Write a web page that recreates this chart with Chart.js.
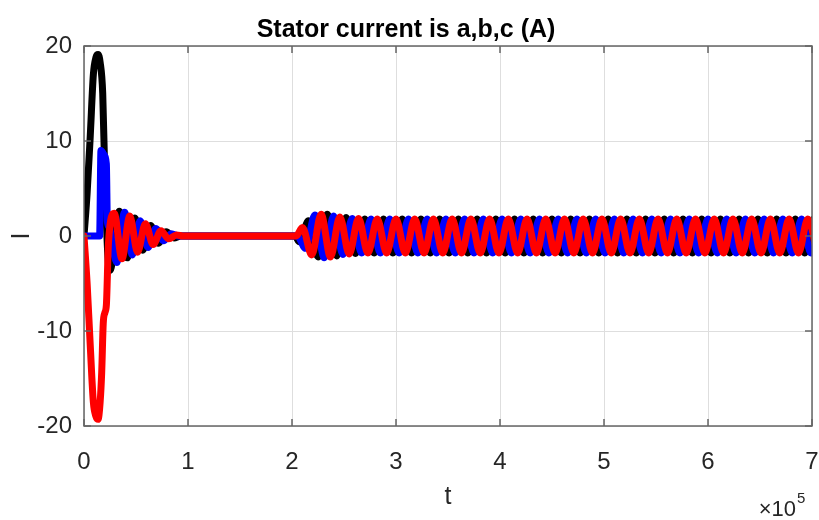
<!DOCTYPE html>
<html>
<head>
<meta charset="utf-8">
<title>Stator current</title>
<script src="https://cdn.jsdelivr.net/npm/chart.js@4.4.1/dist/chart.umd.min.js"></script>
<style>
  body { margin: 0; background: #fff; }
</style>
</head>
<body>
<canvas id="myChart" width="819" height="520"></canvas>
<script>
//* GLOBALS //
// time values are in units of 10^5 (see the exponent label under the x axis)
let xTicks = [0, 1, 2, 3, 4, 5, 6, 7];
let yTicks = [-20, -10, 0, 10, 20];
let fontName = '"Liberation Sans", Arial, sans-serif';

//*PHASE A (red)*//
let tRed = [0, 0.03, 0.06, 0.09, 0.115, 0.135, 0.155, 0.17, 0.185, 0.20, 0.215, 0.235,
  0.29, 0.365, 0.44, 0.515, 0.59, 0.665, 0.74, 0.815, 0.89, 0.95, 2.04,
  2.10, 2.19, 2.28, 2.37, 2.46, 2.55, 2.64, 2.73,
  2.82, 2.91, 3.00, 3.09, 3.18, 3.27, 3.36, 3.45,
  3.54, 3.63, 3.72, 3.81, 3.90, 3.99, 4.08, 4.17,
  4.26, 4.35, 4.44, 4.53, 4.62, 4.71, 4.80, 4.89,
  4.98, 5.07, 5.16, 5.25, 5.34, 5.43, 5.52, 5.61,
  5.70, 5.79, 5.88, 5.97, 6.06, 6.15, 6.24, 6.33,
  6.42, 6.51, 6.60, 6.69, 6.78, 6.87, 6.96, 7.05];
let iRed = [0, -5, -11.5, -17.5, -19, -19.3, -17.5, -14.4, -9.2, -8.1, -7.3, -0.8,
  2.4, -2.4, 2.1, -1.7, 1.3, -0.9, 0.55, -0.3, 0.1, 0, 0,
  0.9, -2.0, 2.3, -2.2, 2.0, -1.9, 1.85, -1.8,
  1.8, -1.8, 1.8, -1.8, 1.8, -1.8, 1.8, -1.8,
  1.8, -1.8, 1.8, -1.8, 1.8, -1.8, 1.8, -1.8,
  1.8, -1.8, 1.8, -1.8, 1.8, -1.8, 1.8, -1.8,
  1.8, -1.8, 1.8, -1.8, 1.8, -1.8, 1.8, -1.8,
  1.8, -1.8, 1.8, -1.8, 1.8, -1.8, 1.8, -1.8,
  1.8, -1.8, 1.8, -1.8, 1.8, -1.8, 1.8, -1.8];

//*PHASE B (black)*//
let tBlack = [0, 0.03, 0.06, 0.09, 0.115, 0.135, 0.155, 0.18, 0.20, 0.23, 0.25,
  0.34, 0.415, 0.49, 0.565, 0.64, 0.715, 0.79, 0.865, 0.93, 2.03,
  2.07, 2.16, 2.25, 2.34, 2.43, 2.52, 2.61, 2.70,
  2.79, 2.88, 2.97, 3.06, 3.15, 3.24, 3.33, 3.42,
  3.51, 3.60, 3.69, 3.78, 3.87, 3.96, 4.05, 4.14,
  4.23, 4.32, 4.41, 4.50, 4.59, 4.68, 4.77, 4.86,
  4.95, 5.04, 5.13, 5.22, 5.31, 5.40, 5.49, 5.58,
  5.67, 5.76, 5.85, 5.94, 6.03, 6.12, 6.21, 6.30,
  6.39, 6.48, 6.57, 6.66, 6.75, 6.84, 6.93, 7.02];
let iBlack = [0, 4.5, 10.5, 17, 18.8, 19.1, 18.3, 15, 6.5, -2.2, -3.6,
  2.6, -2.3, 1.9, -1.5, 1.1, -0.75, 0.45, -0.2, 0, 0,
  -0.6, 1.6, -2.2, 2.3, -2.1, 1.95, -1.85, 1.8,
  -1.8, 1.8, -1.8, 1.8, -1.8, 1.8, -1.8, 1.8,
  -1.8, 1.8, -1.8, 1.8, -1.8, 1.8, -1.8, 1.8,
  -1.8, 1.8, -1.8, 1.8, -1.8, 1.8, -1.8, 1.8,
  -1.8, 1.8, -1.8, 1.8, -1.8, 1.8, -1.8, 1.8,
  -1.8, 1.8, -1.8, 1.8, -1.8, 1.8, -1.8, 1.8,
  -1.8, 1.8, -1.8, 1.8, -1.8, 1.8, -1.8, 1.8];

//*PHASE C (blue)*//
let tBlue = [0, 0.15, 0.163, 0.19, 0.215, 0.225, 0.24,
  0.315, 0.39, 0.465, 0.54, 0.615, 0.69, 0.765, 0.84, 0.91, 2.05,
  2.13, 2.22, 2.31, 2.40, 2.49, 2.58, 2.67, 2.76,
  2.85, 2.94, 3.03, 3.12, 3.21, 3.30, 3.39, 3.48,
  3.57, 3.66, 3.75, 3.84, 3.93, 4.02, 4.11, 4.20,
  4.29, 4.38, 4.47, 4.56, 4.65, 4.74, 4.83, 4.92,
  5.01, 5.10, 5.19, 5.28, 5.37, 5.46, 5.55, 5.64,
  5.73, 5.82, 5.91, 6.00, 6.09, 6.18, 6.27, 6.36,
  6.45, 6.54, 6.63, 6.72, 6.81, 6.90, 6.99, 7.08];
let iBlue = [0, 0, 9, 8.6, 7.6, 1.5, 1,
  -2.8, 2.5, -2.0, 1.6, -1.2, 0.8, -0.5, 0.25, 0, 0,
  -1.3, 2.2, -2.3, 2.1, -1.95, 1.85, -1.8, 1.8,
  -1.8, 1.8, -1.8, 1.8, -1.8, 1.8, -1.8, 1.8,
  -1.8, 1.8, -1.8, 1.8, -1.8, 1.8, -1.8, 1.8,
  -1.8, 1.8, -1.8, 1.8, -1.8, 1.8, -1.8, 1.8,
  -1.8, 1.8, -1.8, 1.8, -1.8, 1.8, -1.8, 1.8,
  -1.8, 1.8, -1.8, 1.8, -1.8, 1.8, -1.8, 1.8,
  -1.8, 1.8, -1.8, 1.8, -1.8, 1.8, -1.8, 1.8];

//*HELPERS*//
function toPoints(t, i) {
  let pts = [];
  for (let k = 0; k < t.length; k++) {
    pts.push({ x: t[k], y: i[k] });
  }
  return pts;
}

function phase(label, t, i, color) {
  return {
    label: label,
    data: toPoints(t, i),
    borderColor: color,
    borderWidth: 7,
    borderJoinStyle: 'round',
    borderCapStyle: 'round',
    pointRadius: 0,
    // monotone keeps the peaks flat, so the waves read as sinusoids
    cubicInterpolationMode: 'monotone',
    fill: false
  };
}

// box around the plot, inward tick marks and the x10^5 multiplier
let frameBox = {
  id: 'frameBox',
  afterDraw(chart) {
    let ctx = chart.ctx;
    let a = chart.chartArea;
    let sx = chart.scales.x;
    let sy = chart.scales.y;
    ctx.save();
    ctx.strokeStyle = '#666666';
    ctx.lineWidth = 1.5;
    ctx.strokeRect(a.left, a.top, a.right - a.left, a.bottom - a.top);
    ctx.beginPath();
    xTicks.forEach(v => {
      let px = sx.getPixelForValue(v);
      ctx.moveTo(px, a.bottom); ctx.lineTo(px, a.bottom - 7);
      ctx.moveTo(px, a.top); ctx.lineTo(px, a.top + 7);
    });
    yTicks.forEach(v => {
      let py = sy.getPixelForValue(v);
      ctx.moveTo(a.left, py); ctx.lineTo(a.left + 7, py);
      ctx.moveTo(a.right, py); ctx.lineTo(a.right - 7, py);
    });
    ctx.stroke();

    ctx.fillStyle = '#262626';
    ctx.textBaseline = 'alphabetic';
    ctx.textAlign = 'right';
    ctx.font = '22px ' + fontName;
    ctx.fillText('\u00d710', a.right - 16, a.bottom + 90);
    ctx.textAlign = 'left';
    ctx.font = '15px ' + fontName;
    ctx.fillText('5', a.right - 15, a.bottom + 77);
    ctx.restore();
  }
};

//*CHART*//
let ctx = document.getElementById('myChart');

let chartObj = {
  type: 'line',
  data: {
    // red listed first so it is painted on top
    datasets: [
      phase('i_a', tRed, iRed, '#ff0000'),
      phase('i_c', tBlue, iBlue, '#0000ff'),
      phase('i_b', tBlack, iBlack, '#000000')
    ]
  },
  options: {
    responsive: false,
    animation: false,
    layout: { padding: { left: 0, right: 7, top: 0, bottom: 0 } },
    plugins: {
      legend: { display: false },
      tooltip: { enabled: false },
      title: {
        display: true,
        text: 'Stator current is a,b,c (A)',
        color: '#000000',
        font: { family: fontName, size: 25, weight: 'bold' },
        padding: { top: 15, bottom: 1 }
      }
    },
    scales: {
      x: {
        type: 'linear',
        min: 0,
        max: 7,
        afterBuildTicks: scale => { scale.ticks = xTicks.map(v => ({ value: v })); },
        afterFit: scale => {
          scale.height = 94;
          scale.paddingLeft = 0;
          scale.paddingRight = 0;
        },
        grid: { color: '#dedede', lineWidth: 1, drawTicks: false },
        border: { display: false },
        ticks: { padding: 22, color: '#262626', font: { family: fontName, size: 24 } },
        title: {
          display: true,
          text: 't',
          color: '#262626',
          font: { family: fontName, size: 25 },
          padding: { top: 0, bottom: 8 }
        }
      },
      y: {
        min: -20,
        max: 20,
        afterBuildTicks: scale => { scale.ticks = yTicks.map(v => ({ value: v })); },
        afterFit: scale => {
          scale.width = 84;
          scale.paddingTop = 0;
          scale.paddingBottom = 0;
        },
        grid: { color: '#dedede', lineWidth: 1, drawTicks: false },
        border: { display: false },
        ticks: { padding: 12, color: '#262626', font: { family: fontName, size: 24 } },
        title: {
          display: true,
          text: 'I',
          color: '#262626',
          font: { family: fontName, size: 25 },
          padding: { top: 7, bottom: 0 }
        }
      }
    }
  },
  plugins: [frameBox]
};

new Chart(ctx, chartObj);
</script>
</body>
</html>
